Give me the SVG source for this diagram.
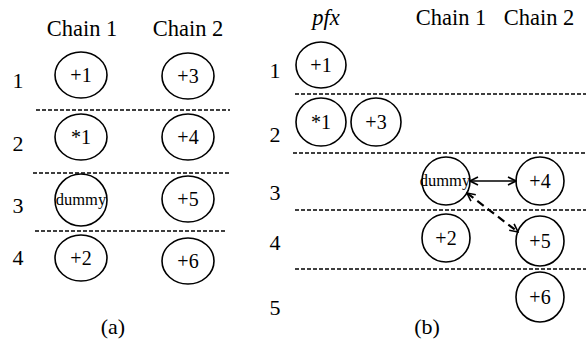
<svg xmlns="http://www.w3.org/2000/svg" width="586" height="345" viewBox="0 0 586 345" font-family="'Liberation Serif', serif">
  <style>
    text { font-family: 'Liberation Serif', 'Times New Roman', serif; fill: #000; }
    .hdr { font-size: 22.5px; text-anchor: middle; }
    .row { font-size: 22px; text-anchor: middle; }
    .lbl { font-size: 20px; text-anchor: middle; }
    .small { font-size: 16.5px; text-anchor: middle; }
    .cap { font-size: 22px; text-anchor: middle; }
    .node { fill: #fff; stroke: #000; stroke-width: 1.6; }
    .sep { stroke: #000; stroke-width: 1.5; stroke-dasharray: 4 2; fill: none; }
    .link { stroke: #000; stroke-width: 1.6; fill: none; }
    .dlink { stroke: #000; stroke-width: 2.2; fill: none; stroke-dasharray: 8 5; }
  </style>
  <defs>
    <marker id="vhead" viewBox="0 0 10 10" refX="9" refY="5" markerWidth="10" markerHeight="10" markerUnits="userSpaceOnUse" orient="auto-start-reverse">
      <path d="M1,1 L9,5 L1,9" fill="none" stroke="#000" stroke-width="1.6"/>
    </marker>
  </defs>

  <!-- (a) headers and row numbers -->
  <text class="hdr" x="82" y="36">Chain 1</text>
  <text class="hdr" x="188" y="36">Chain 2</text>
  <text class="row" x="18" y="88">1</text>
  <text class="row" x="18" y="151">2</text>
  <text class="row" x="18" y="213">3</text>
  <text class="row" x="18" y="265">4</text>
  <text class="cap" x="113" y="334">(a)</text>

  <!-- (a) row separators -->
  <g id="a-separators">
    <line class="sep" x1="36" y1="110" x2="230" y2="110"/>
    <line class="sep" x1="33" y1="173" x2="230" y2="173"/>
    <line class="sep" x1="35" y1="231" x2="226" y2="231"/>
  </g>

  <!-- (a) nodes -->
  <g id="a-c1-p1"><ellipse class="node" cx="81" cy="75" rx="26" ry="23"/><text class="lbl" x="81" y="82">+1</text></g>
  <g id="a-c1-s1"><ellipse class="node" cx="81" cy="137" rx="26" ry="23"/><text class="lbl" x="81" y="144">*1</text></g>
  <g id="a-c1-dummy"><ellipse class="node" cx="81" cy="200" rx="26" ry="26"/><text class="small" x="81" y="205">dummy</text></g>
  <g id="a-c1-p2"><ellipse class="node" cx="81" cy="258" rx="26" ry="23"/><text class="lbl" x="81" y="265">+2</text></g>
  <g id="a-c2-p3"><ellipse class="node" cx="188" cy="76" rx="26" ry="23"/><text class="lbl" x="188" y="83">+3</text></g>
  <g id="a-c2-p4"><ellipse class="node" cx="188" cy="137" rx="26" ry="23"/><text class="lbl" x="188" y="144">+4</text></g>
  <g id="a-c2-p5"><ellipse class="node" cx="188" cy="199" rx="26" ry="23"/><text class="lbl" x="188" y="206">+5</text></g>
  <g id="a-c2-p6"><ellipse class="node" cx="188" cy="261" rx="26" ry="23"/><text class="lbl" x="188" y="268">+6</text></g>

  <!-- (b) headers and row numbers -->
  <text class="hdr" x="326" y="25" font-style="italic">pfx</text>
  <text class="hdr" x="451" y="25">Chain 1</text>
  <text class="hdr" x="539" y="25">Chain 2</text>
  <text class="row" x="275" y="78">1</text>
  <text class="row" x="275" y="142">2</text>
  <text class="row" x="275" y="200">3</text>
  <text class="row" x="275" y="250">4</text>
  <text class="row" x="275" y="315">5</text>
  <text class="cap" x="427" y="334">(b)</text>

  <!-- (b) row separators -->
  <g id="b-separators">
    <line class="sep" x1="295" y1="94" x2="586" y2="94"/>
    <line class="sep" x1="293" y1="153" x2="586" y2="153"/>
    <line class="sep" x1="295" y1="210" x2="586" y2="210"/>
    <line class="sep" x1="295" y1="269" x2="586" y2="269"/>
  </g>

  <!-- (b) nodes -->
  <g id="b-pfx-p1"><ellipse class="node" cx="321" cy="65" rx="25" ry="23"/><text class="lbl" x="321" y="72">+1</text></g>
  <g id="b-pfx-s1"><ellipse class="node" cx="321" cy="122" rx="25" ry="24"/><text class="lbl" x="321" y="129">*1</text></g>
  <g id="b-pfx-p3"><ellipse class="node" cx="376" cy="122" rx="25" ry="24"/><text class="lbl" x="376" y="129">+3</text></g>
  <g id="b-c1-dummy"><ellipse class="node" cx="446" cy="181" rx="24" ry="24"/><text class="small" x="445" y="186">dummy</text></g>
  <g id="b-c1-p2"><ellipse class="node" cx="446" cy="238" rx="24" ry="24"/><text class="lbl" x="446" y="245">+2</text></g>
  <g id="b-c2-p4"><ellipse class="node" cx="540" cy="181" rx="24" ry="24"/><text class="lbl" x="540" y="188">+4</text></g>
  <g id="b-c2-p5"><ellipse class="node" cx="540" cy="241" rx="24" ry="25"/><text class="lbl" x="540" y="248">+5</text></g>
  <g id="b-c2-p6"><ellipse class="node" cx="540" cy="297" rx="24" ry="25"/><text class="lbl" x="540" y="304">+6</text></g>

  <!-- connectors -->
  <g id="connectors">
    <line class="link" x1="470" y1="181" x2="516" y2="181" marker-start="url(#vhead)" marker-end="url(#vhead)"/>
    <line class="dlink" x1="467" y1="193" x2="518" y2="232" marker-start="url(#vhead)" marker-end="url(#vhead)"/>
  </g>
</svg>
